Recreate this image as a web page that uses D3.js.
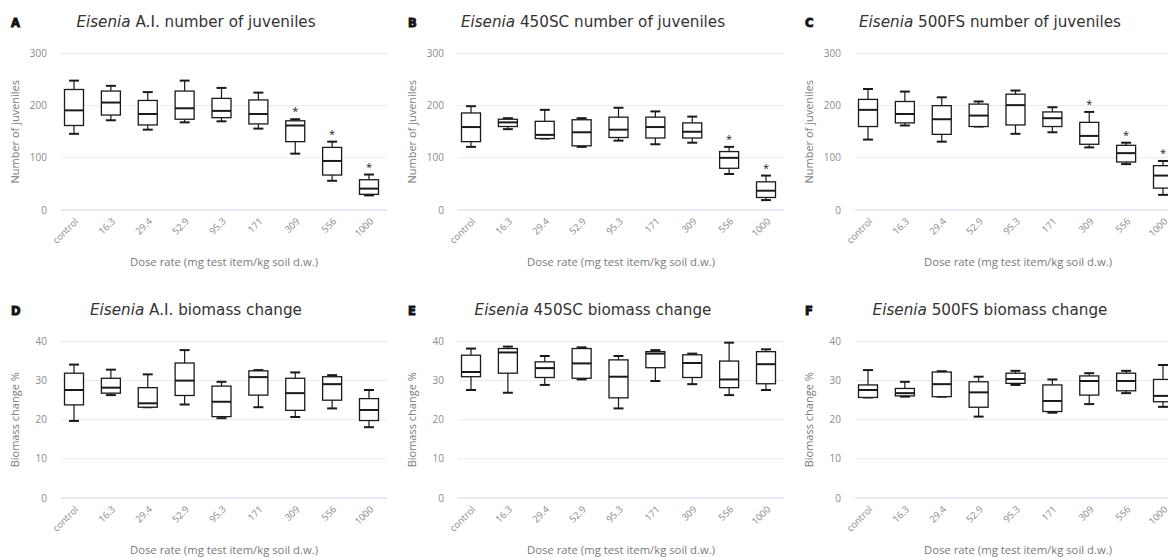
<!DOCTYPE html>
<html>
<head>
<meta charset="utf-8">
<script src="https://cdn.jsdelivr.net/npm/d3@7"></script>
<style>
  body { margin: 0; background: #fff; }
  svg { display: block; font-family: 'Open Sans', sans-serif; }
  .grid line { stroke: #e9eaef; stroke-width: 1; }
  .grid line.zero { stroke: #cdd5ea; }
  .tick-y { fill: #8a8a8a; font-size: 10px; }
  .tick-x { fill: #8a8a8a; font-size: 9.5px; }
  .ylab { fill: #7a7a7a; font-size: 11px; }
  .xlab { fill: #7a7a7a; font-size: 11.3px; }
  .title { fill: #333; font-family: 'DejaVu Sans', sans-serif; font-size: 15.2px; }
  .letter { fill: #111; stroke: #111; stroke-width: 0.9; font-family: 'DejaVu Sans', sans-serif; font-weight: bold; font-size: 11.5px; }
  .box rect { fill: #fff; stroke: #1a1a1a; stroke-width: 1.3; }
  .box .whisker { stroke: #1a1a1a; stroke-width: 1.2; }
  .box .cap, .box .median { stroke: #1a1a1a; stroke-width: 2; }
  .star { fill: #222; font-size: 11px; }
</style>
</head>
<body>
<div id="chart"></div>
<script>
// dose categories (x axis)
const doses = ['control', '16.3', '29.4', '52.9', '95.3', '171', '309', '556', '1000'];

// each row: [min, q1, median, q3, max]
const juvAI = [
  [146, 162, 191, 231, 248], [172, 182, 206, 228, 238], [154, 163, 184, 210, 226],
  [168, 174, 195, 228, 248], [170, 177, 190, 214, 234], [156, 165, 184, 211, 225],
  [108, 131, 162, 171, 174], [56, 67, 94, 120, 131], [28, 30, 41, 58, 68]
];
const juv450 = [
  [121, 131, 159, 186, 199], [155, 160, 168, 174, 176], [137, 137, 144, 170, 192],
  [121, 123, 149, 173, 176], [133, 139, 154, 178, 196], [126, 138, 159, 178, 189],
  [129, 138, 150, 167, 179], [69, 80, 100, 112, 121], [19, 24, 37, 54, 66]
];
const juv500 = [
  [135, 160, 192, 212, 232], [162, 167, 184, 208, 227], [131, 145, 174, 200, 216],
  [160, 160, 181, 203, 208], [146, 163, 201, 222, 229], [149, 160, 176, 188, 197],
  [120, 126, 142, 168, 188], [88, 92, 109, 124, 129], [29, 42, 66, 85, 94]
];
const bioAI = [
  [19.7, 23.8, 27.6, 31.9, 34.1], [26.3, 26.8, 28.2, 30.6, 32.8], [23.2, 23.2, 24.2, 28.2, 31.6],
  [23.9, 26.2, 30.0, 34.5, 37.8], [20.4, 20.8, 24.6, 28.6, 29.7], [23.2, 26.3, 30.9, 32.5, 32.7],
  [20.7, 22.4, 26.8, 30.6, 32.1], [22.9, 25.0, 29.1, 31.0, 31.4], [18.1, 19.8, 22.5, 25.4, 27.6]
];
const bio450 = [
  [27.6, 31.0, 32.2, 36.5, 38.2], [26.9, 31.9, 37.2, 38.2, 38.7], [28.9, 30.8, 33.2, 34.8, 36.3],
  [30.3, 30.6, 34.4, 38.2, 38.5], [22.9, 25.6, 31.0, 35.3, 36.3], [29.9, 33.3, 36.9, 37.4, 37.8],
  [29.1, 30.8, 34.5, 36.6, 36.9], [26.3, 28.2, 30.3, 35.0, 39.7], [27.6, 29.2, 34.2, 37.4, 38.0]
];
const bio500 = [
  [25.7, 25.7, 27.6, 28.9, 32.7], [25.9, 26.1, 26.8, 28.0, 29.7], [25.9, 25.9, 29.1, 32.2, 32.4],
  [20.8, 23.2, 27.0, 29.7, 31.0], [28.9, 29.3, 30.4, 31.9, 32.5], [21.8, 22.1, 24.8, 28.9, 30.3],
  [24.0, 26.3, 29.9, 31.2, 31.9], [26.8, 27.4, 29.9, 31.9, 32.5], [23.3, 24.6, 26.1, 30.3, 34.0]
];

// doses marked with * (significant)
const starsAI = ['309', '556', '1000'];
const stars450 = ['556', '1000'];
const stars500 = ['309', '556', '1000'];

const juvTicks = [0, 100, 200, 300];
const bioTicks = [0, 10, 20, 30, 40];

const panels = [
  { letter: 'A', product: 'A.I.', what: 'number of juveniles', ylab: 'Number of juveniles', data: juvAI, stars: starsAI, max: 300, ticks: juvTicks },
  { letter: 'B', product: '450SC', what: 'number of juveniles', ylab: 'Number of juveniles', data: juv450, stars: stars450, max: 300, ticks: juvTicks },
  { letter: 'C', product: '500FS', what: 'number of juveniles', ylab: 'Number of juveniles', data: juv500, stars: stars500, max: 300, ticks: juvTicks },
  { letter: 'D', product: 'A.I.', what: 'biomass change', ylab: 'Biomass change %', data: bioAI, stars: [], max: 40, ticks: bioTicks },
  { letter: 'E', product: '450SC', what: 'biomass change', ylab: 'Biomass change %', data: bio450, stars: [], max: 40, ticks: bioTicks },
  { letter: 'F', product: '500FS', what: 'biomass change', ylab: 'Biomass change %', data: bio500, stars: [], max: 40, ticks: bioTicks }
];

const W = 1168, H = 557;
const panelW = 397, panelH = 288;
const plot = { left: 61, right: 387, top: 53.5, bottom: 210 };
const boxW = 19, capW = 10;

const svg = d3.select('#chart').append('svg')
  .attr('width', W)
  .attr('height', H);

const x = d3.scalePoint().domain(doses).range([74, 369]);

panels.forEach((p, i) => {
  const col = i % 3, row = Math.floor(i / 3);
  const g = svg.append('g')
    .attr('transform', `translate(${col * panelW},${row * panelH})`);

  const y = d3.scaleLinear().domain([0, p.max]).range([plot.bottom, plot.top]);

  // panel letter + title
  g.append('text').attr('class', 'letter').attr('x', 11).attr('y', 27).text(p.letter);
  const title = g.append('text').attr('class', 'title')
    .attr('x', 196).attr('y', 27).attr('text-anchor', 'middle');
  title.append('tspan').attr('font-style', 'italic').text('Eisenia');
  title.append('tspan').text(` ${p.product} ${p.what}`);

  // gridlines
  g.append('g').attr('class', 'grid')
    .selectAll('line')
    .data(p.ticks)
    .join('line')
    .attr('class', (d) => (d === 0 ? 'zero' : null))
    .attr('x1', plot.left).attr('x2', plot.right)
    .attr('y1', (d) => y(d)).attr('y2', (d) => y(d));

  // y tick labels
  g.append('g')
    .selectAll('text')
    .data(p.ticks)
    .join('text')
    .attr('class', 'tick-y')
    .attr('x', 47)
    .attr('y', (d) => y(d) + 3.5)
    .attr('text-anchor', 'end')
    .text((d) => d);

  // y axis label
  g.append('text').attr('class', 'ylab')
    .attr('transform', `translate(19,${(plot.top + plot.bottom) / 2}) rotate(-90)`)
    .attr('text-anchor', 'middle')
    .text(p.ylab);

  // x tick labels, rotated
  g.append('g')
    .selectAll('text')
    .data(doses)
    .join('text')
    .attr('class', 'tick-x')
    .attr('text-anchor', 'end')
    .attr('transform', (d) => `translate(${x(d) + 5},${plot.bottom + 12}) rotate(-45)`)
    .text((d) => d);

  // x axis title
  g.append('text').attr('class', 'xlab')
    .attr('x', (plot.left + plot.right) / 2)
    .attr('y', 266)
    .attr('text-anchor', 'middle')
    .text('Dose rate (mg test item/kg soil d.w.)');

  // boxes
  const boxes = g.append('g')
    .selectAll('g.box')
    .data(p.data.map((s, j) => ({ dose: doses[j], s })))
    .join('g')
    .attr('class', 'box')
    .attr('transform', (d) => `translate(${x(d.dose)},0)`);

  boxes.append('line').attr('class', 'whisker')
    .attr('y1', (d) => y(d.s[3])).attr('y2', (d) => y(d.s[4]));
  boxes.append('line').attr('class', 'whisker')
    .attr('y1', (d) => y(d.s[1])).attr('y2', (d) => y(d.s[0]));
  boxes.append('line').attr('class', 'cap')
    .attr('x1', -capW / 2).attr('x2', capW / 2)
    .attr('y1', (d) => y(d.s[4])).attr('y2', (d) => y(d.s[4]));
  boxes.append('line').attr('class', 'cap')
    .attr('x1', -capW / 2).attr('x2', capW / 2)
    .attr('y1', (d) => y(d.s[0])).attr('y2', (d) => y(d.s[0]));
  boxes.append('rect')
    .attr('x', -boxW / 2).attr('width', boxW)
    .attr('y', (d) => y(d.s[3]))
    .attr('height', (d) => y(d.s[1]) - y(d.s[3]));
  boxes.append('line').attr('class', 'median')
    .attr('x1', -boxW / 2).attr('x2', boxW / 2)
    .attr('y1', (d) => y(d.s[2])).attr('y2', (d) => y(d.s[2]));

  // significance stars
  boxes.filter((d) => p.stars.includes(d.dose))
    .append('text').attr('class', 'star')
    .attr('text-anchor', 'middle')
    .attr('y', (d) => y(d.s[4]) - 4)
    .text('*');
});
</script>
</body>
</html>
